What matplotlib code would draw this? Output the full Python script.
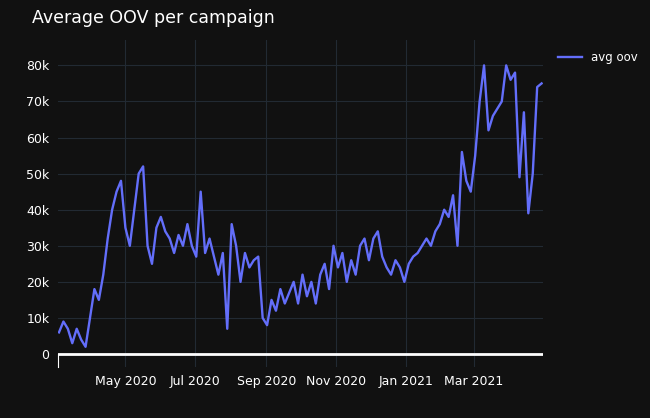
import pandas as pd
import matplotlib.pyplot as plt
import matplotlib.dates as mdates
from matplotlib.ticker import FuncFormatter

# ==============================
# DATA (roughly every 4 days)
# ==============================
start_date = "2020-03-04"
end_date = "2021-04-29"
avg_oov = [6, 9, 7, 3, 7, 4, 2, 10, 18, 15, 22, 32, 40, 45, 48, 35, 30, 40, 50, 52,
           30, 25, 35, 38, 34, 32, 28, 33, 30, 36, 30, 27, 45, 28, 32, 27, 22, 28, 7, 36,
           30, 20, 28, 24, 26, 27, 10, 8, 15, 12, 18, 14, 17, 20, 14, 22, 16, 20, 14, 22,
           25, 18, 30, 24, 28, 20, 26, 22, 30, 32, 26, 32, 34, 27, 24, 22, 26, 24, 20, 25,
           27, 28, 30, 32, 30, 34, 36, 40, 38, 44, 30, 56, 48, 45, 55, 70, 80, 62, 66, 68,
           70, 80, 76, 78, 49, 67, 39, 50, 74, 75]
avg_oov = [v * 1000 for v in avg_oov]
dates = pd.date_range(start_date, end_date, periods=len(avg_oov))

# ==============================
# PLOT
# ==============================
bg = "#111111"
fig = plt.figure(figsize=(6.5, 4.18), dpi=100, facecolor=bg)
ax = fig.add_axes([0.089, 0.122, 0.746, 0.782], facecolor=bg)

ax.plot(dates, avg_oov, color="#636efa", lw=1.7, label="avg oov")
ax.axhline(0, color="white", lw=2, zorder=1)

ax.set_xlim(pd.Timestamp("2020-03-03"), pd.Timestamp("2021-04-30"))
ax.set_ylim(-3600, 87000)
ax.set_yticks(range(0, 80001, 10000))
ax.yaxis.set_major_formatter(FuncFormatter(lambda v, p: "0" if v == 0 else f"{int(v/1000)}k"))
ax.xaxis.set_major_locator(mdates.MonthLocator(bymonth=[1, 3, 5, 7, 9, 11]))
ax.xaxis.set_major_formatter(mdates.DateFormatter("%b %Y"))

ax.grid(color="#222a33", lw=0.8)
ax.set_axisbelow(True)
for s in ax.spines.values():
    s.set_visible(False)
ax.spines["left"].set_visible(True)
ax.spines["left"].set_color("white")
ax.spines["left"].set_bounds(-3600, 0)
ax.tick_params(colors="white", length=0, labelsize=9, pad=6)

fig.text(0.05, 0.945, "Average OOV per campaign", color="white", fontsize=12.5)
leg = ax.legend(loc="upper left", bbox_to_anchor=(1.01, 1.0), frameon=False,
                labelcolor="white", fontsize=8.5, handlelength=2)

fig.savefig("out.png", facecolor=bg)
